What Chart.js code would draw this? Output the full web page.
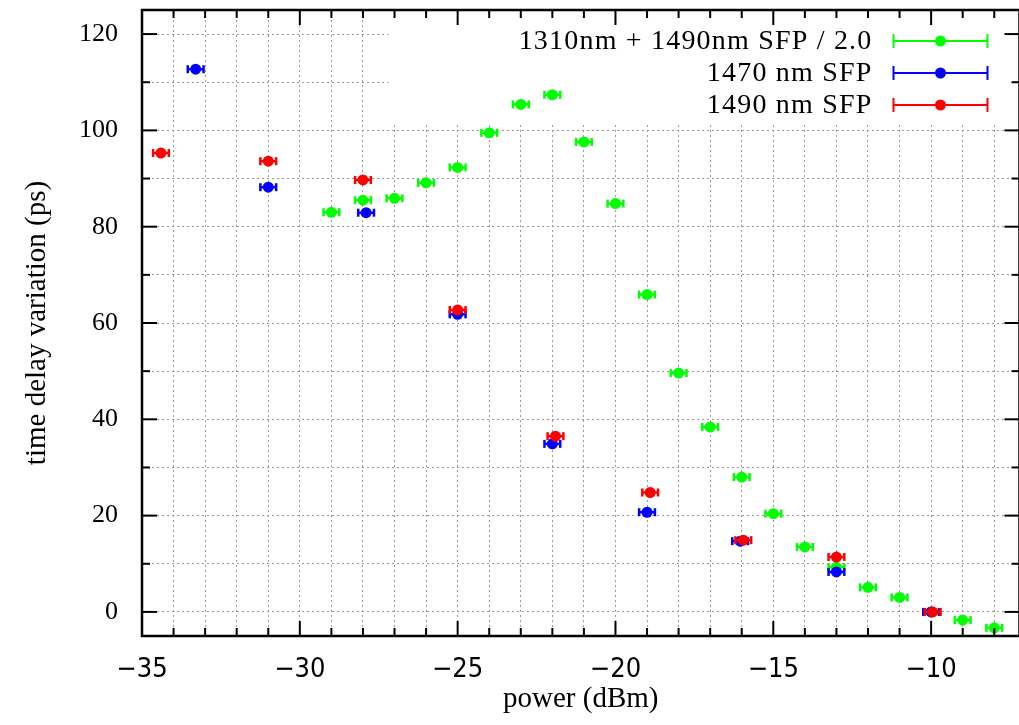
<!DOCTYPE html>
<html>
<head>
<meta charset="utf-8">
<script src="https://cdn.jsdelivr.net/npm/chart.js@4"></script>
<style>
  body { margin: 0; background: #fff; overflow: hidden; }
  #wrap { width: 1025px; height: 725px; }
</style>
</head>
<body>
<div id="wrap"><canvas id="myChart"></canvas></div>
<script>
// values (power in dBm, delay in ps)
const labels = ['1310nm + 1490nm SFP / 2.0', '1470 nm SFP', '1490 nm SFP'];
const colors = ['#00ff00', '#0000ff', '#ff0000'];

const greenX = [-29, -28, -27, -26, -25, -24, -23, -22, -21, -20, -19, -18, -17, -16, -15, -14, -13, -12, -11, -10, -9, -8];
const greenY = [83.0, 85.5, 85.9, 89.1, 92.3, 99.5, 105.4, 107.4, 97.6, 84.8, 65.9, 49.6, 38.4, 28.0, 20.4, 13.5, 9.3, 5.1, 3.0, 0.0, -1.7, -3.3];

const blueX = [-33.3, -31, -27.9, -25, -22, -19, -16.05, -13, -10];
const blueY = [112.7, 88.2, 82.9, 61.8, 34.9, 20.7, 14.7, 8.3, 0.0];

const redX = [-34.4, -31, -28, -25, -21.9, -18.9, -15.95, -13, -9.95];
const redY = [95.3, 93.6, 89.7, 62.7, 36.5, 24.8, 14.9, 11.4, 0.0];

// horizontal error (dBm)
const xErr = [0.25, 0.25, 0.25];

// tick values (every one gets a grid line, labels only on the major ones)
const xTicks = [-35, -34, -33, -32, -31, -30, -29, -28, -27, -26, -25, -24, -23, -22, -21, -20, -19, -18, -17, -16, -15, -14, -13, -12, -11, -10, -9, -8];
const yTicks = [0, 10, 20, 30, 40, 50, 60, 70, 80, 90, 100, 110, 120];

const xMin = -35, xMax = -7.2;
const yMin = -5, yMax = 125;

const serif = '"Liberation Serif"';
const narrow = '"Liberation Sans Narrow", "DejaVu Sans Condensed", "Liberation Sans"';

function toPoints(xs, ys) {
  return xs.map((v, i) => ({ x: v, y: ys[i] }));
}

function line(ctx, x1, y1, x2, y2) {
  ctx.beginPath();
  ctx.moveTo(x1, y1);
  ctx.lineTo(x2, y2);
  ctx.stroke();
}

// error bars, drawn just before each dataset's points
const errorBars = {
  id: 'errorBars',
  beforeDatasetDraw(chart, args) {
    const ds = chart.data.datasets[args.index];
    const { ctx, scales: { x, y } } = chart;
    ctx.save();
    ctx.strokeStyle = ds.backgroundColor;
    ctx.lineWidth = 2.5;
    ds.data.forEach(p => {
      const py = y.getPixelForValue(p.y);
      const x1 = x.getPixelForValue(p.x - ds.xErr);
      const x2 = x.getPixelForValue(p.x + ds.xErr);
      line(ctx, x1, py, x2, py);
      line(ctx, x1, py - 4, x1, py + 4);
      line(ctx, x2, py - 4, x2, py + 4);
    });
    ctx.restore();
  }
};

// gnuplot-like frame: opaque key box, inward ticks on all sides, key
const frame = {
  id: 'frame',
  beforeDatasetsDraw(chart) {
    const { ctx, chartArea: a } = chart;
    ctx.save();
    ctx.fillStyle = '#fff';
    ctx.fillRect(a.right - 631, a.top, 631, 115);
    ctx.restore();
  },
  afterDatasetsDraw(chart) {
    const { ctx, chartArea: a, scales: { x, y } } = chart;
    ctx.save();
    ctx.strokeStyle = '#000';
    ctx.lineWidth = 2;
    xTicks.forEach(v => {
      const len = v % 5 === 0 ? 15 : 8;
      const px = x.getPixelForValue(v);
      line(ctx, px, a.bottom, px, a.bottom - len);
      line(ctx, px, a.top, px, a.top + len);
    });
    yTicks.forEach(v => {
      const len = v % 20 === 0 ? 15 : 8;
      const py = y.getPixelForValue(v);
      line(ctx, a.left, py, a.left + len, py);
      line(ctx, a.right, py, a.right - len, py);
    });
    ctx.lineWidth = 2.5;
    ctx.strokeRect(a.left, a.top, a.right - a.left, a.bottom - a.top);
    ctx.restore();
  },
  afterDraw(chart) {
    const { ctx, chartArea: a } = chart;
    ctx.save();
    ctx.font = '28px ' + serif;
    ctx.letterSpacing = '1.2px';
    ctx.textAlign = 'right';
    ctx.textBaseline = 'middle';
    labels.forEach((lab, i) => {
      const ry = a.top + 31 + i * 32;
      ctx.fillStyle = '#000';
      ctx.fillText(lab, a.right - 147, ry + 1);
      const x1 = a.right - 126, x2 = a.right - 32;
      ctx.strokeStyle = colors[i];
      ctx.fillStyle = colors[i];
      ctx.lineWidth = 2;
      line(ctx, x1, ry, x2, ry);
      line(ctx, x1, ry - 7, x1, ry + 7);
      line(ctx, x2, ry - 7, x2, ry + 7);
      ctx.beginPath();
      ctx.arc(a.right - 79, ry, 5.5, 0, Math.PI * 2);
      ctx.fill();
    });
    ctx.restore();
  }
};

function createChart() {
  Chart.defaults.font.family = serif;
  Chart.defaults.color = '#000';

  const series = [[greenX, greenY], [blueX, blueY], [redX, redY]];
  const datasets = series.map((s, i) => ({
    label: labels[i],
    data: toPoints(s[0], s[1]),
    xErr: xErr[i],
    backgroundColor: colors[i],
    borderWidth: 0,
    pointRadius: 5.5,
    pointHoverRadius: 5.5,
    order: 3 - i
  }));

  const ctx = document.getElementById('myChart').getContext('2d');
  new Chart(ctx, {
    type: 'scatter',
    data: { datasets: datasets },
    options: {
      responsive: true,
      maintainAspectRatio: false,
      animation: false,
      layout: { padding: { top: 10, right: 0, left: 0, bottom: 0 } },
      plugins: {
        legend: { display: false },
        tooltip: { enabled: false }
      },
      scales: {
        x: {
          type: 'linear',
          min: xMin,
          max: xMax,
          afterBuildTicks: s => { s.ticks = xTicks.map(v => ({ value: v })); },
          afterFit: s => {
            s.height = 89;
            s.paddingLeft = 0;
            s.paddingRight = 0;
          },
          grid: { color: '#9a9a9a', lineWidth: 1, drawTicks: false },
          border: { display: false, dash: [2, 3] },
          ticks: {
            padding: 18,
            maxRotation: 0,
            autoSkip: false,
            font: { size: 27, family: narrow },
            callback: v => (v % 5 === 0 ? String(v).replace('-', '\u2212') : '')
          },
          title: {
            display: true,
            text: 'power (dBm)',
            font: { size: 29 },
            padding: { top: 0, bottom: 8 }
          }
        },
        y: {
          min: yMin,
          max: yMax,
          afterBuildTicks: s => { s.ticks = yTicks.map(v => ({ value: v })); },
          afterFit: s => {
            s.width = 142;
            s.paddingTop = 0;
            s.paddingBottom = 0;
          },
          grid: { color: '#9a9a9a', lineWidth: 1, drawTicks: false },
          border: { display: false, dash: [2, 3] },
          ticks: {
            padding: 24,
            autoSkip: false,
            font: { size: 26 },
            callback: v => (v % 20 === 0 ? v : '')
          },
          title: {
            display: true,
            text: 'time delay variation (ps)',
            font: { size: 29 },
            padding: { top: 20, bottom: 0 }
          }
        }
      }
    },
    plugins: [errorBars, frame]
  });
}

window.onload = createChart;
</script>
</body>
</html>
